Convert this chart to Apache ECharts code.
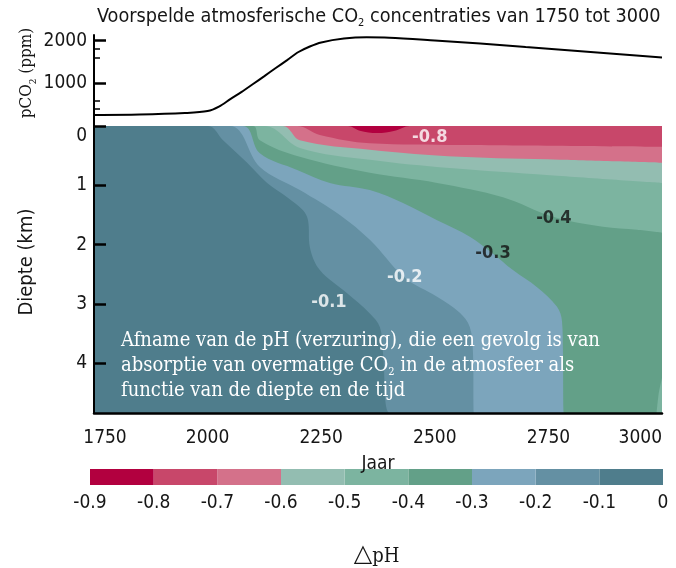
<!DOCTYPE html>
<html><head><meta charset="utf-8">
<script src="https://cdn.jsdelivr.net/npm/echarts@6/dist/echarts.min.js"></script>
<style>html,body{margin:0;padding:0;background:#fff}#c{width:676px;height:568px}</style>
</head><body><div id="c"></div>
<script>
// ---------------- DATA ----------------
// Atmospheric CO2 (ppm) per year
const co2Years = [1750,1850,1950,2000,2025,2050,2075,2100,2125,2150,2175,2200,2225,2250,2300,2350,2400,2500,2600,2700,2800,2900,3000];
const co2Ppm   = [260, 270, 305, 350, 455, 630, 800, 985,1170,1360,1545,1735,1865,1960,2050,2080,2070,2005,1935,1850,1770,1690,1605];
const co2MajorTicks = [0,1000,2000];
const co2TickLabels = [1000,2000];
const co2MinorTicks = [400,600,1600,1800];

// pH-change bands (colour bar)
const bandLevels = [-0.9,-0.8,-0.7,-0.6,-0.5,-0.4,-0.3,-0.2,-0.1,0];
const bandColors = ['#B2003F','#C8476A','#D4718A','#93BDB1','#7CB4A0','#63A088','#7CA5BC','#6490A3','#4F7D8C'];

// contour lines: [year, depth km] where delta pH equals the level (above = more negative)
const contourM01 = [[1750,0],[2001,0],[2034,0.24],[2087,0.62],[2131,0.96],[2175,1.20],[2210,1.42],[2221,1.59],[2225,2.04],[2247,2.43],[2307,2.82],[2357,3.16],[2379,3.39],[2386,3.83],[2401,4.84],[3000,4.84]];
const contourM02 = [[1750,0],[2049,0],[2115,0.69],[2203,1.08],[2291,1.50],[2357,1.92],[2434,2.56],[2505,2.88],[2555,3.15],[2577,3.39],[2584,3.83],[2586,4.84],[3000,4.84]];
const contourM03 = [[1750,0],[2078,0],[2115,0.46],[2197,0.74],[2269,0.96],[2357,1.08],[2430,1.30],[2505,1.59],[2578,1.87],[2626,2.14],[2672,2.43],[2725,2.72],[2769,3.05],[2780,3.30],[2782,3.80],[2784,4.84],[3000,4.84]];
const contourM04 = [[1750,0],[2100,0],[2115,0.24],[2203,0.52],[2357,0.79],[2505,0.96],[2650,1.20],[2760,1.53],[2870,1.70],[2945,1.75],[3000,1.80]];
const contourM04Deep = [[2988,4.84],[2993,4.50],[3000,4.25]];
const contourM05 = [[1750,0],[2126,0],[2203,0.37],[2357,0.57],[2533,0.71],[2753,0.83],[3000,0.96]];
const contourM06 = [[1750,0],[2166,0],[2203,0.24],[2357,0.40],[2555,0.52],[2776,0.57],[3000,0.62]];
const contourM07 = [[1750,0],[2197,0],[2247,0.15],[2357,0.29],[2555,0.32],[3000,0.35]];
const contourM08 = [[1750,0],[2309,0],[2335,0.08],[2373,0.12],[2412,0.08],[2445,0],[3000,0]];
const contourLevels = [-0.1,-0.2,-0.3,-0.4,-0.5,-0.6,-0.7,-0.8];
const contourLines  = [contourM01,contourM02,contourM03,contourM04,contourM05,contourM06,contourM07,contourM08];

// contour labels
const labelTexts  = ['-0.8','-0.4','-0.3','-0.2','-0.1'];
const labelYears  = [2489, 2762, 2628, 2434, 2267];
const labelDepths = [0.19, 1.55, 2.14, 2.56, 2.97];
const labelDark   = [false, true, true, false, false];

const yearTicks  = [1750,2000,2250,2500,2750,3000];
const depthTicks = [0,1,2,3,4];
const DEPTH_MAX = 4.84;

// ---------------- CHART ----------------
const SANS  = '"DejaVu Sans Condensed","DejaVu Sans",sans-serif';
const SERIF = '"DejaVu Serif Condensed","DejaVu Serif",serif';
const INK = '#161616';

const chart = echarts.init(document.getElementById('c'));

const series = [];
// pCO2 curve
series.push({
  type:'line', xAxisIndex:0, yAxisIndex:0, smooth:0.3, symbol:'none', silent:true,
  data: co2Years.map((y,i)=>[y,co2Ppm[i]]),
  lineStyle:{color:'#000', width:2}
});
// contour fills
contourLevels.forEach((lev,i)=>{
  const k = Math.round((lev - bandLevels[0]) * 10);
  const col = bandColors[k-1];
  series.push({
    type:'line', xAxisIndex:1, yAxisIndex:1, smooth:0.35, symbol:'none', silent:true,
    data: contourLines[i], clip:true, z:2+i*0.01,
    lineStyle:{width:0}, areaStyle:{color:col, opacity:1, origin:'start'}
  });
  if (lev === -0.4) {
    series.push({
      type:'line', xAxisIndex:1, yAxisIndex:1, smooth:0.3, symbol:'none', silent:true,
      data: contourM04Deep, clip:true, z:2+i*0.01+0.005,
      lineStyle:{width:0}, areaStyle:{color:col, opacity:1, origin:'end'}
    });
  }
});
// contour labels
series.push({
  type:'scatter', xAxisIndex:1, yAxisIndex:1, symbolSize:0, silent:true, z:5,
  data: labelTexts.map((t,i)=>({name:t, value:[labelYears[i],labelDepths[i]],
        label:{color: labelDark[i] ? '#111' : '#fff'}})),
  label:{show:true, position:'inside', formatter:'{b}', fontFamily:SANS, fontWeight:'bold', fontSize:18}
});
// colour bar (stacked from 0 towards -0.9)
for (let i = bandColors.length-1; i >= 0; i--) {
  series.push({
    type:'bar', xAxisIndex:2, yAxisIndex:2, stack:'cb', silent:true, barWidth:'100%',
    data:[+(bandLevels[i]-bandLevels[i+1]).toFixed(2)],
    itemStyle:{color:bandColors[i]}
  });
}

const option = {
  animation:false,
  backgroundColor:'#fff',
  title:{
    text:'Voorspelde atmosferische CO{s|2} concentraties van 1750 tot 3000',
    left:97, top:5, padding:0,
    textStyle:{fontFamily:SANS, fontSize:19.7, fontWeight:'normal', color:INK, lineHeight:24,
      rich:{s:{fontFamily:SANS, fontSize:11, color:INK, lineHeight:8, verticalAlign:'bottom'}}}
  },
  grid:[
    {left:94, top:35, width:568, height:91},
    {left:94, top:126, width:568, height:287, show:true, backgroundColor:bandColors[8], borderWidth:0},
    {left:90, top:469, width:573, height:17}
  ],
  xAxis:[
    {gridIndex:0, type:'value', min:1750, max:3000, show:false},
    {gridIndex:1, type:'value', min:1750, max:3000, interval:250, z:10,
     axisLine:{show:true, onZero:false, lineStyle:{color:'#000', width:2.5}},
     axisTick:{show:false}, splitLine:{show:false},
     axisLabel:{fontFamily:SANS, fontSize:19, color:INK, margin:16, alignMaxLabel:'right',
       formatter:(v)=> v===yearTicks[0] ? '{f|'+v+'}' : String(v),
       rich:{f:{fontFamily:SANS, fontSize:19, color:INK, padding:[0,0,0,22]}}},
     name:'Jaar', nameLocation:'middle', nameGap:42,
     nameTextStyle:{fontFamily:SANS, fontSize:19, color:INK}},
    {gridIndex:2, type:'value', min:bandLevels[0], max:0, interval:0.1,
     axisLine:{show:false}, axisTick:{show:false}, splitLine:{show:false},
     axisLabel:{fontFamily:SANS, fontSize:19, color:INK, margin:9,
       formatter:(v)=> Math.abs(v)<1e-9 ? '0' : v.toFixed(1)},
     name:'{t|△}{p|pH}', nameLocation:'middle', nameGap:58,
     nameTextStyle:{fontFamily:SERIF, fontSize:20, color:INK,
       rich:{t:{fontFamily:'"DejaVu Sans",sans-serif', fontSize:24, color:INK},
             p:{fontFamily:SERIF, fontSize:20, color:INK, padding:[4,0,0,0]}}}}
  ],
  yAxis:[
    {gridIndex:0, type:'value', min:0, max:2134, z:10, position:'left',
     axisLine:{show:true, lineStyle:{color:'#000', width:2}},
     axisTick:{show:true, inside:true, length:12, customValues:co2MajorTicks, lineStyle:{color:'#000', width:2.5}},
     axisLabel:{fontFamily:SANS, fontSize:19, color:INK, margin:7, customValues:co2TickLabels, formatter:(v)=>String(v)},
     splitLine:{show:false}},
    {gridIndex:1, type:'value', min:0, max:DEPTH_MAX, inverse:true, z:10,
     axisLine:{show:true, onZero:false, lineStyle:{color:'#000', width:2}},
     axisTick:{show:true, inside:true, length:12, customValues:depthTicks, lineStyle:{color:'#000', width:2.5}},
     axisLabel:{fontFamily:SANS, fontSize:19, color:INK, margin:7, customValues:depthTicks,
       formatter:(v)=> v===0 ? '{z|0}' : String(v),
       rich:{z:{fontFamily:SANS, fontSize:19, color:INK, padding:[20,0,0,0]}}},
     splitLine:{show:false}},
    {gridIndex:2, type:'category', data:['pH'], show:false},
    {gridIndex:0, type:'value', min:0, max:2134, z:10, position:'left', offset:0,
     axisLine:{show:false}, axisLabel:{show:false}, splitLine:{show:false},
     axisTick:{show:true, inside:true, length:6, customValues:co2MinorTicks, lineStyle:{color:'#000', width:1.5}}}
  ],
  graphic:[
    {type:'text', x:27, y:73, rotation:Math.PI/2, silent:true,
     style:{text:'pCO{s|2} (ppm)', fontFamily:SERIF, fontSize:17, fill:INK, align:'center', verticalAlign:'middle', lineHeight:22,
       rich:{s:{fontFamily:SERIF, fontSize:10, fill:INK, lineHeight:7, verticalAlign:'bottom'}}}},
    {type:'text', x:27, y:262, rotation:Math.PI/2, silent:true,
     style:{text:'Diepte (km)', fontFamily:SANS, fontSize:20, fill:INK, align:'center', verticalAlign:'middle'}},
    {type:'text', left:121, top:328, silent:true, z:20,
     style:{text:'Afname van de pH (verzuring), die een gevolg is van\nabsorptie van overmatige CO{s|2} in de atmosfeer als\nfunctie van de diepte en de tijd',
       fontFamily:SERIF, fontSize:20, fill:'#fff', lineHeight:25,
       rich:{s:{fontFamily:SERIF, fontSize:11, fill:'#fff', lineHeight:8, verticalAlign:'bottom'}}}}
  ],
  series
};
chart.setOption(option);
</script></body></html>
